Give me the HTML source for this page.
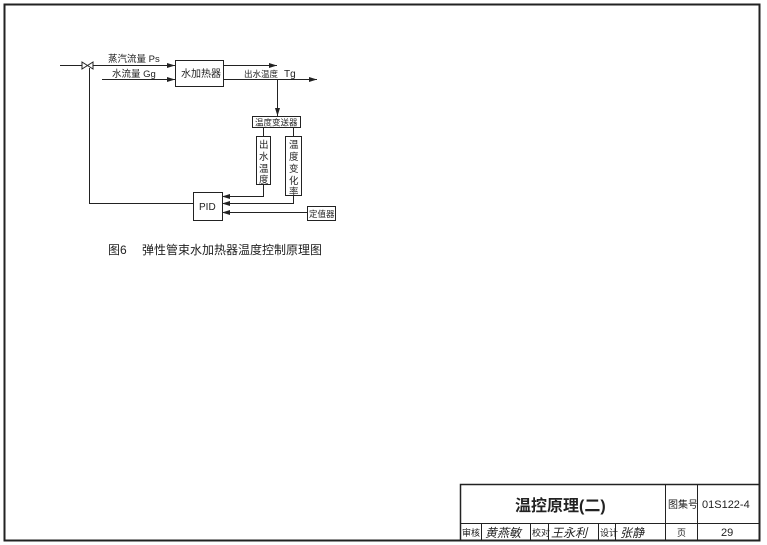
<!DOCTYPE html>
<html><head><meta charset="utf-8"><style>
html,body{margin:0;padding:0;background:#fff;}
svg{display:block;}
text{font-family:"Liberation Sans","Noto Sans CJK SC",sans-serif;fill:#222;}
</style></head><body>
<svg width="767" height="545" viewBox="0 0 767 545" xmlns="http://www.w3.org/2000/svg">
<defs><marker id="a" markerWidth="8" markerHeight="6" refX="8" refY="3" orient="auto" markerUnits="userSpaceOnUse"><path d="M0,0.5 L8,3 L0,5.5 Z" fill="#222"/></marker></defs>
<g stroke="#222" fill="none">
<rect x="4.5" y="4.5" width="755" height="536" stroke-width="2"/>
<rect x="460.5" y="484.5" width="299" height="56" stroke-width="1.5"/>
<line x1="460" y1="523.5" x2="760" y2="523.5"/>
<line x1="665.5" y1="484" x2="665.5" y2="541"/>
<line x1="697.5" y1="484" x2="697.5" y2="541"/>
<line x1="481.5" y1="523" x2="481.5" y2="541"/>
<line x1="530.5" y1="523" x2="530.5" y2="541"/>
<line x1="548.5" y1="523" x2="548.5" y2="541"/>
<line x1="598.5" y1="523" x2="598.5" y2="541"/>
<line x1="615.5" y1="523" x2="615.5" y2="541"/>
<line x1="60" y1="65.5" x2="82" y2="65.5"/>
<path d="M82,62 L93,69 L93,62 L82,69 Z" stroke-width="1"/>
<line x1="93" y1="65.5" x2="175" y2="65.5" marker-end="url(#a)"/>
<line x1="102" y1="79.5" x2="175" y2="79.5" marker-end="url(#a)"/>
<rect x="175.5" y="60.5" width="48" height="26"/>
<line x1="223" y1="65.5" x2="277" y2="65.5" marker-end="url(#a)"/>
<line x1="223" y1="79.5" x2="317" y2="79.5" marker-end="url(#a)"/>
<line x1="277.5" y1="79" x2="277.5" y2="116" marker-end="url(#a)"/>
<rect x="252.5" y="116.5" width="48" height="11"/>
<line x1="263.5" y1="127" x2="263.5" y2="136"/>
<line x1="293.5" y1="127" x2="293.5" y2="136"/>
<rect x="256.5" y="136.5" width="14" height="48"/>
<rect x="285.5" y="136.5" width="16" height="59"/>
<rect x="193.5" y="192.5" width="29" height="28"/>
<polyline points="263.5,184 263.5,196.5 222,196.5" marker-end="url(#a)"/>
<polyline points="293.5,195 293.5,203.5 222,203.5" marker-end="url(#a)"/>
<line x1="307" y1="212.5" x2="222" y2="212.5" marker-end="url(#a)"/>
<rect x="307.5" y="206.5" width="28" height="14"/>
<polyline points="193,203.5 89.5,203.5 89.5,68"/>
</g>
<g font-size="10">
<text x="108" y="62" font-size="9.5">蒸汽流量 Ps</text>
<text x="112" y="77" font-size="9.5">水流量 Gg</text>
<text x="181" y="77">水加热器</text>
<text x="244" y="77" font-size="8.5">出水温度</text>
<text x="284" y="77">Tg</text>
<text x="255" y="125.5" font-size="8.5">温度变送器</text>
<text x="259" y="148" font-size="9.5">出</text>
<text x="259" y="160" font-size="9.5">水</text>
<text x="259" y="172" font-size="9.5">温</text>
<text x="259" y="183" font-size="9.5">度</text>
<text x="289" y="148" font-size="9.5">温</text>
<text x="289" y="160" font-size="9.5">度</text>
<text x="289" y="172" font-size="9.5">变</text>
<text x="289" y="184" font-size="9.5">化</text>
<text x="289" y="195" font-size="9.5">率</text>
<text x="199" y="210">PID</text>
<text x="309" y="217" font-size="8.5">定值器</text>
<text x="108" y="254" font-size="12">图6　 弹性管束水加热器温度控制原理图</text>
<text x="515" y="511" font-size="16" font-weight="bold">温控原理(二)</text>
<text x="668" y="508" font-size="10">图集号</text>
<text x="702" y="508" font-size="11">01S122-4</text>
<text x="462" y="536" font-size="9">审核</text>
<text x="532" y="536" font-size="9">校对</text>
<text x="600" y="536" font-size="9">设计</text>
<text x="485" y="537" font-size="12" font-style="italic">黄燕敏</text>
<text x="551" y="537" font-size="12" font-style="italic">王永利</text>
<text x="620" y="537" font-size="12" font-style="italic">张静</text>
<text x="677" y="536" font-size="9">页</text>
<text x="721" y="536" font-size="11">29</text>
</g>
</svg>
</body></html>
